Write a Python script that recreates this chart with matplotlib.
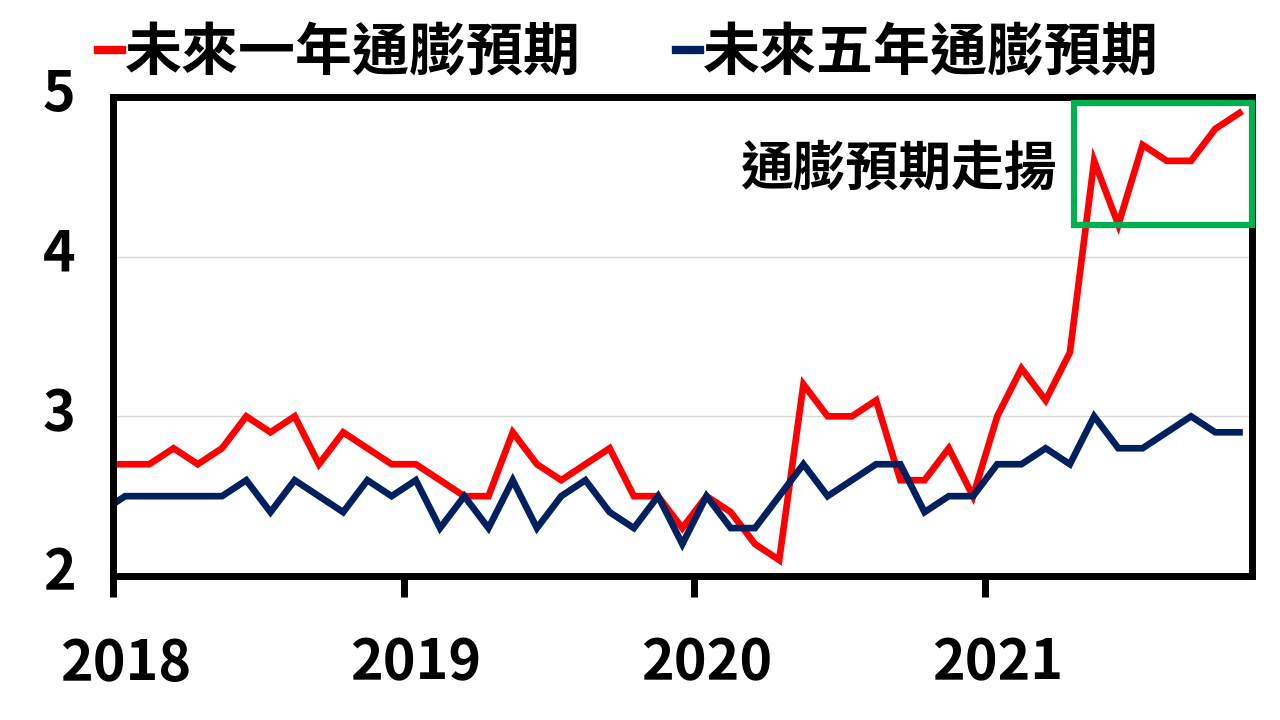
import numpy as np
import matplotlib
matplotlib.use('Agg')
import matplotlib.pyplot as plt
from matplotlib.patches import Rectangle
from matplotlib.transforms import ScaledTranslation

plt.rcParams['font.family'] = ['Noto Sans CJK TC', 'DejaVu Sans']
plt.rcParams['font.weight'] = 'heavy'

# monthly data, Dec 2017 .. Nov 2021 (first point sits just left of the axis)
one_year = [2.7,
            2.7, 2.7, 2.8, 2.7, 2.8, 3.0, 2.9, 3.0, 2.7, 2.9, 2.8, 2.7,
            2.7, 2.6, 2.5, 2.5, 2.9, 2.7, 2.6, 2.7, 2.8, 2.5, 2.5, 2.3,
            2.5, 2.4, 2.2, 2.1, 3.2, 3.0, 3.0, 3.1, 2.6, 2.6, 2.8, 2.5,
            3.0, 3.3, 3.1, 3.4, 4.6, 4.2, 4.7, 4.6, 4.6, 4.8, 4.9]
five_year = [2.4,
             2.5, 2.5, 2.5, 2.5, 2.5, 2.6, 2.4, 2.6, 2.5, 2.4, 2.6, 2.5,
             2.6, 2.3, 2.5, 2.3, 2.6, 2.3, 2.5, 2.6, 2.4, 2.3, 2.5, 2.2,
             2.5, 2.3, 2.3, 2.5, 2.7, 2.5, 2.6, 2.7, 2.7, 2.4, 2.5, 2.5,
             2.7, 2.7, 2.8, 2.7, 3.0, 2.8, 2.8, 2.9, 3.0, 2.9, 2.9]
years = ['2018', '2019', '2020', '2021']
y_ticks = [2, 3, 4, 5]
series_names = ['未來一年通膨預期', '未來五年通膨預期']
note = '通膨預期走揚'

months = np.arange(len(one_year)) - 1 + 0.5

fig = plt.figure(figsize=(12.8, 7.2), dpi=100)
ax = fig.add_axes([0.0883, 0.2, 0.8895, 0.6653])

ax.plot(months, one_year, color='#FF0000', lw=4.8, label=series_names[0],
        solid_joinstyle='miter')
ax.plot(months, five_year, color='#002060', lw=4.8, label=series_names[1],
        solid_joinstyle='miter')

ax.set_xlim(0, 47)
ax.set_ylim(2, 5)
ax.set_yticks(y_ticks)
ax.set_yticklabels([str(v) for v in y_ticks])
ax.grid(axis='y', color='#D9D9D9', lw=1)
ax.set_axisbelow(True)

ax.set_xticks([12 * i for i in range(len(years))])
ax.set_xticklabels([])
ax.set_xticks([12 * i + 0.5 for i in range(len(years))], minor=True)
ax.set_xticklabels(years, minor=True)
ax.tick_params(axis='x', which='major', length=15, width=5, direction='out', color='black')
ax.tick_params(axis='x', which='minor', length=0, pad=43, labelsize=40)
ax.tick_params(axis='y', length=0, pad=27, labelsize=40)
lift = ScaledTranslation(0, 6 / 72, fig.dpi_scale_trans)
for lab in ax.get_yticklabels():
    lab.set_transform(lab.get_transform() + lift)
for lab in ax.get_xticklabels(minor=True) + ax.get_yticklabels():
    lab.set_fontweight('heavy')

for s in ax.spines.values():
    s.set_linewidth(5)
    s.set_color('black')

# highlight box
ax.add_patch(Rectangle((39.67, 4.2), 47.0 - 39.67, 0.76, fill=False,
                       edgecolor='#00B050', lw=4.5, clip_on=False, zorder=5))
ax.text(32.4, 4.55, note, fontsize=38, fontweight='heavy', ha='center', va='center')

leg = fig.legend(loc='upper left', bbox_to_anchor=(98 / 1280, 1 - 24 / 720), ncol=2,
                 frameon=False, fontsize=41, handlelength=0.42, handletextpad=0.05,
                 columnspacing=1.68, borderpad=0, borderaxespad=0)
for line in leg.get_lines():
    line.set_linewidth(6)
for t in leg.get_texts():
    t.set_fontweight('heavy')

fig.savefig('out.png', dpi=100)
